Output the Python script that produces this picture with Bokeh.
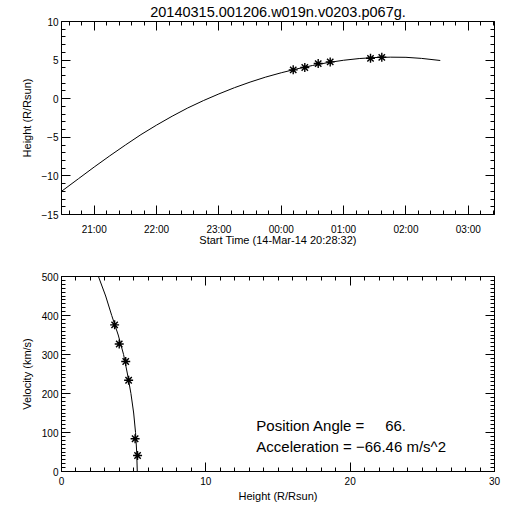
from datetime import datetime, timedelta
from bokeh.plotting import figure
from bokeh.layouts import column
from bokeh.models import (Range1d, FixedTicker, DatetimeAxis, LinearAxis,
                          DatetimeTickFormatter, CustomJSTickFormatter, Label,
                          ColumnDataSource)
from bokeh.embed import file_html
from bokeh.resources import INLINE

# ---------------- data ----------------
title_text = "20140315.001206.w019n.v0203.p067g."
start_stamp = "14-Mar-14 20:28:32"
x_span_seconds = 25000

fit_times = ["20:28:32", "20:45:00", "21:00:00", "21:15:00", "21:30:00", "21:45:00",
             "22:00:00", "22:15:00", "22:30:00", "22:45:00", "23:00:00", "23:15:00",
             "23:30:00", "23:45:00", "00:00:00", "00:15:00", "00:30:00", "00:45:00",
             "01:00:00", "01:15:00", "01:30:00", "01:45:00", "02:00:00", "02:15:00",
             "02:33:00"]
fit_heights = [-12.00, -10.35, -8.85, -7.40, -6.00, -4.65,
               -3.42, -2.27, -1.20, -0.25, 0.62, 1.43,
               2.15, 2.80, 3.36, 3.86, 4.30, 4.68,
               4.98, 5.20, 5.33, 5.38, 5.36, 5.22,
               4.95]

obs_times = ["00:11:30", "00:22:39", "00:35:33", "00:47:06", "01:25:53", "01:36:45"]
obs_heights = [3.74, 4.04, 4.55, 4.77, 5.23, 5.36]

vel_fit_heights = [2.56, 3.06, 3.48, 3.93, 4.30, 4.57, 4.81, 5.00, 5.13, 5.21, 5.25]
vel_fit_speeds = [500, 450, 400, 350, 300, 250, 200, 150, 100, 50, 0]

obs_vel_heights = [3.68, 4.00, 4.45, 4.65, 5.10, 5.27]
obs_speeds = [376, 327, 282, 234, 84, 41]

time_tick_hours = [21, 22, 23, 0, 1, 2, 3]
height_ticks = [-15, -10, -5, 0, 5, 10]
vel_x_ticks = [0, 10, 20, 30]
vel_y_ticks = [0, 100, 200, 300, 400, 500]

pa_text = "Position Angle = \u00a0\u00a0\u00a0\u00a066."
acc_text = "Acceleration = \u221266.46 m/s^2"

# ---------------- helpers ----------------
FONT = "Liberation Sans"
start_dt = datetime(2014, 3, 14, 20, 28, 32)
epoch = datetime(1970, 1, 1)


def clock_to_dt(s):
    h, m, sec = [int(v) for v in s.split(":")]
    d = datetime(2014, 3, 14, h, m, sec)
    if h < 12:
        d += timedelta(days=1)
    return d


def ms(d):
    return (d - epoch).total_seconds() * 1000.0


end_dt = start_dt + timedelta(seconds=x_span_seconds)

major_time = []
for hh in time_tick_hours:
    d = datetime(2014, 3, 14, hh) if hh >= 12 else datetime(2014, 3, 15, hh)
    major_time.append(ms(d))
minor_time = []
d = datetime(2014, 3, 14, 20, 0)
while d <= end_dt:
    if d >= start_dt:
        minor_time.append(ms(d))
    d += timedelta(minutes=12)

blank_fmt = CustomJSTickFormatter(code="return '';")


def style_axis(ax, labels=True):
    ax.axis_line_color = "black"
    ax.axis_line_width = 1
    ax.major_tick_in = 9
    ax.major_tick_out = 0
    ax.minor_tick_in = 4
    ax.minor_tick_out = 0
    ax.major_tick_line_color = "black"
    ax.minor_tick_line_color = "black"
    ax.major_label_text_font = FONT
    ax.major_label_text_font_size = "10px"
    ax.major_label_text_color = "black"
    ax.axis_label_text_font = FONT
    ax.axis_label_text_font_size = "11px"
    ax.axis_label_text_font_style = "normal"
    ax.axis_label_text_color = "black"
    if not labels:
        ax.formatter = blank_fmt
        ax.major_label_standoff = 0


fmt = DatetimeTickFormatter(microseconds="%H:%M", milliseconds="%H:%M", seconds="%H:%M",
                            minsec="%H:%M", minutes="%H:%M", hourmin="%H:%M",
                            hours="%H:%M", days="%H:%M", months="%H:%M", years="%H:%M")
fmt.context = None

# ---------------- top panel ----------------
p1 = figure(width=504, height=256, x_axis_type="datetime",
            x_range=Range1d(start_dt, end_dt), y_range=Range1d(-15, 10),
            output_backend="svg", toolbar_location=None,
            min_border_left=61, min_border_right=10, min_border_top=20, min_border_bottom=42)
p1.grid.visible = False
p1.outline_line_color = None
p1.background_fill_color = "white"
p1.border_fill_color = "white"

t_ticker = FixedTicker(ticks=major_time, minor_ticks=minor_time)
h_ticker = FixedTicker(ticks=height_ticks, minor_ticks=list(range(-15, 11)))

p1.xaxis.ticker = t_ticker
p1.xaxis.formatter = fmt
p1.yaxis.ticker = h_ticker
p1.xaxis.axis_label = "Start Time (" + start_stamp + ")"
p1.yaxis.axis_label = "Height (R/Rsun)"
for ax in p1.xaxis + p1.yaxis:
    style_axis(ax)
p1.xaxis.major_label_standoff = 9
p1.xaxis.axis_label_standoff = -4
p1.yaxis.major_label_standoff = 3
p1.yaxis.axis_label_standoff = 6

# mirrored top axis carries the plot title as its label
top_ax = DatetimeAxis(ticker=t_ticker)
style_axis(top_ax, labels=False)
top_ax.axis_label = title_text
top_ax.axis_label_text_font_size = "14.5px"
top_ax.axis_label_standoff = 2
right_ax1 = LinearAxis(ticker=h_ticker)
style_axis(right_ax1, labels=False)
p1.add_layout(top_ax, "above")
p1.add_layout(right_ax1, "right")

fit_src = ColumnDataSource(dict(t=[clock_to_dt(s) for s in fit_times], h=fit_heights))
obs_src = ColumnDataSource(dict(t=[clock_to_dt(s) for s in obs_times], h=obs_heights))
p1.line(x="t", y="h", source=fit_src, line_color="black", line_width=1)
p1.scatter(x="t", y="h", source=obs_src, marker="asterisk", size=9,
           line_color="black", line_width=1.4)

# ---------------- bottom panel ----------------
p2 = figure(width=504, height=248, x_range=Range1d(0, 30), y_range=Range1d(0, 500),
            output_backend="svg", toolbar_location=None,
            min_border_left=61, min_border_right=10, min_border_top=20, min_border_bottom=33)
p2.grid.visible = False
p2.outline_line_color = None
p2.background_fill_color = "white"
p2.border_fill_color = "white"

hx_ticker = FixedTicker(ticks=vel_x_ticks, minor_ticks=list(range(0, 31)))
v_ticker = FixedTicker(ticks=vel_y_ticks, minor_ticks=list(range(0, 501, 10)))
p2.xaxis.ticker = hx_ticker
p2.yaxis.ticker = v_ticker
p2.xaxis.axis_label = "Height (R/Rsun)"
p2.yaxis.axis_label = "Velocity (km/s)"
for ax in p2.xaxis + p2.yaxis:
    style_axis(ax)
p2.xaxis.major_label_standoff = 5
p2.xaxis.axis_label_standoff = 2
p2.yaxis.major_label_standoff = 3
p2.yaxis.axis_label_standoff = 6

top_ax2 = LinearAxis(ticker=hx_ticker)
right_ax2 = LinearAxis(ticker=v_ticker)
style_axis(top_ax2, labels=False)
style_axis(right_ax2, labels=False)
p2.add_layout(top_ax2, "above")
p2.add_layout(right_ax2, "right")

vfit_src = ColumnDataSource(dict(h=vel_fit_heights, v=vel_fit_speeds))
vobs_src = ColumnDataSource(dict(h=obs_vel_heights, v=obs_speeds))
p2.line(x="h", y="v", source=vfit_src, line_color="black", line_width=1)
p2.scatter(x="h", y="v", source=vobs_src, marker="asterisk", size=9,
           line_color="black", line_width=1.4)

p2.add_layout(Label(x=13.5, y=117, text=pa_text, text_align="left",
                    text_baseline="middle", text_font=FONT, text_font_size="15px",
                    text_color="black"))
p2.add_layout(Label(x=13.5, y=65, text=acc_text, text_align="left",
                    text_baseline="middle", text_font=FONT, text_font_size="15px",
                    text_color="black"))

layout = column(p1, p2, spacing=0)
open("out.html", "w").write(file_html(layout, INLINE))
